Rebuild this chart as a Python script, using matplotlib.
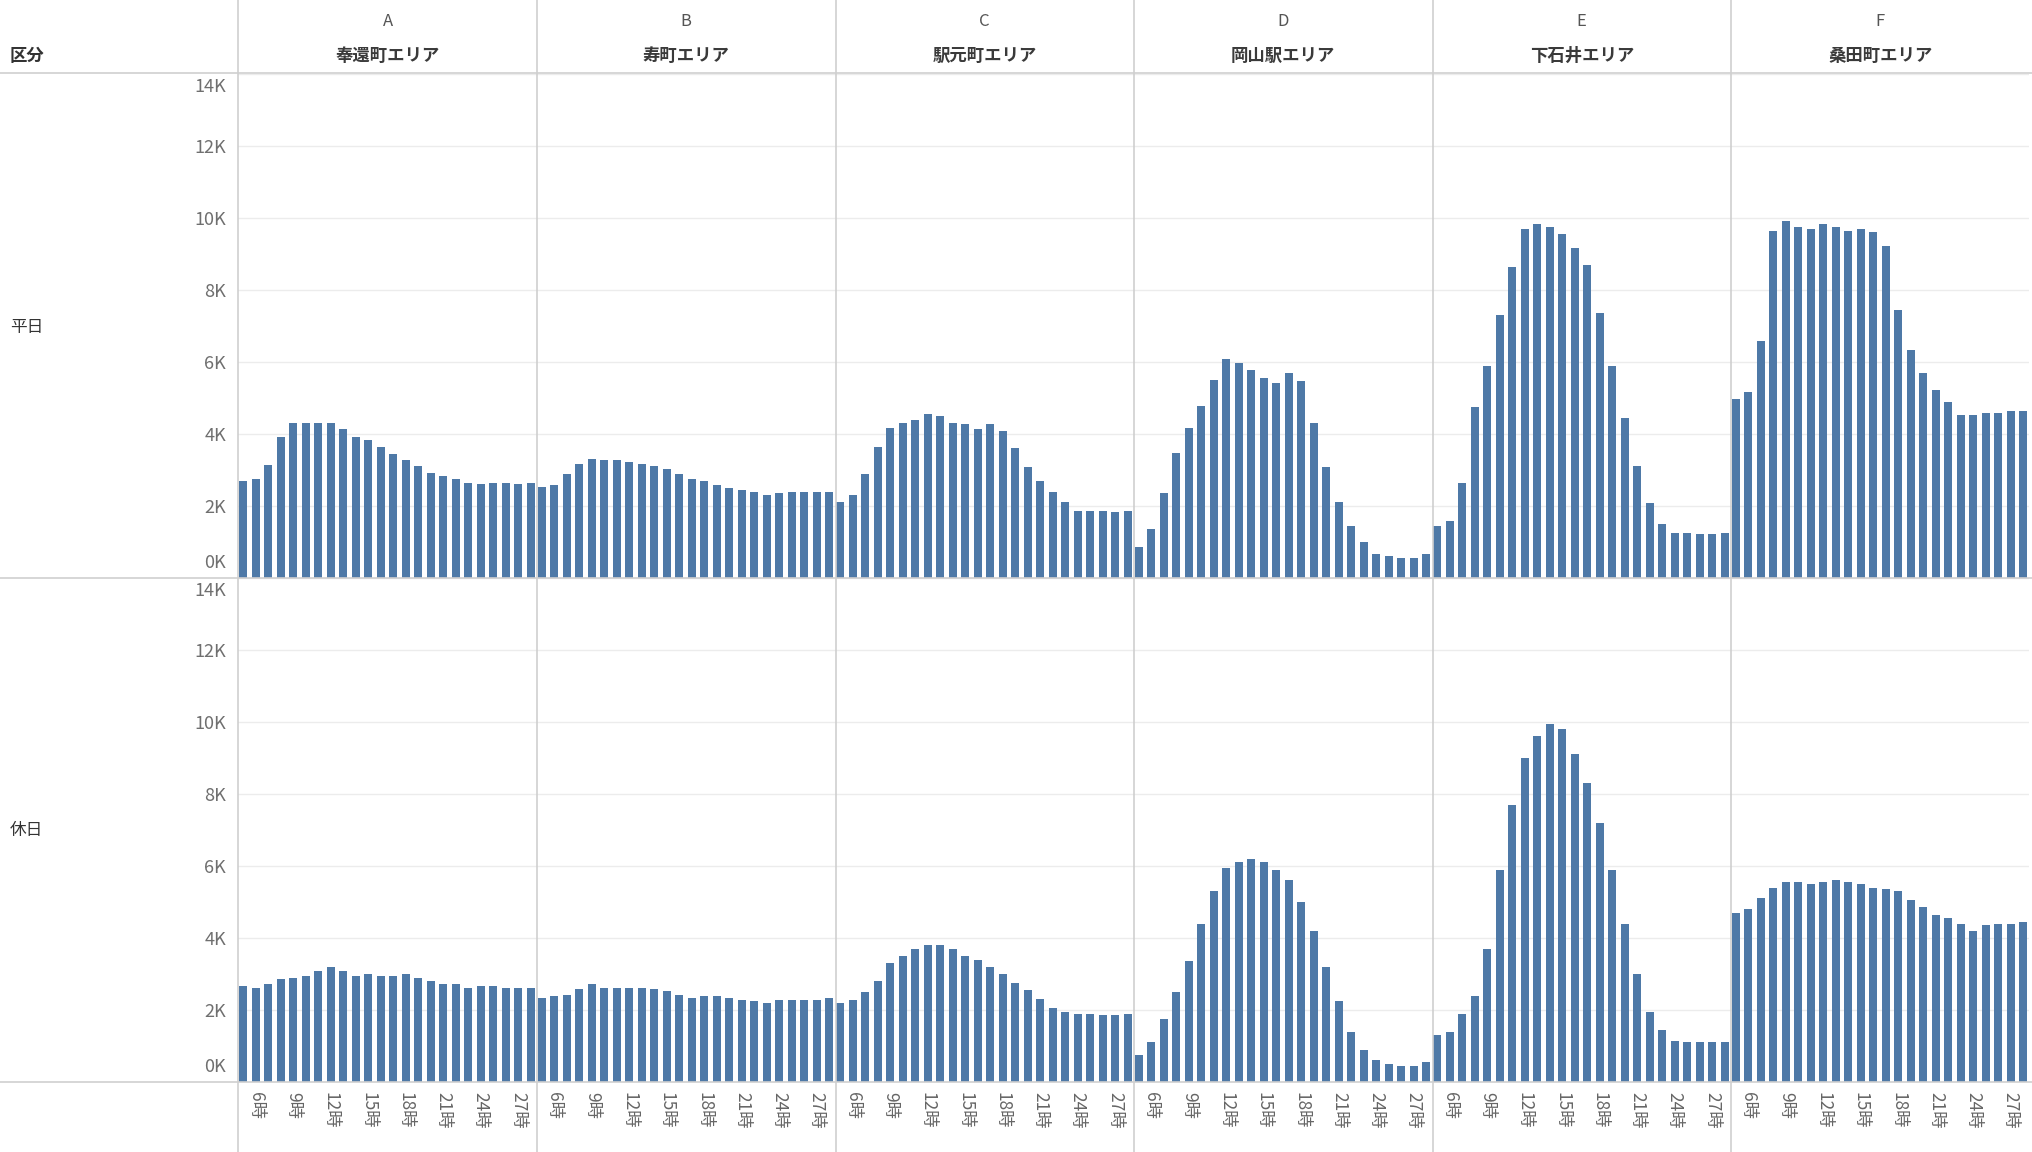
import numpy as np
import matplotlib
matplotlib.use('Agg')
from matplotlib import pyplot as plt
from matplotlib.lines import Line2D
from matplotlib.transforms import ScaledTranslation

plt.rcParams['font.family'] = ['Noto Sans CJK JP', 'DejaVu Sans']

# hours 5..28, labels every 3 hours
hours = list(range(5, 29))
tick_hours = [6, 9, 12, 15, 18, 21, 24, 27]

letters = ['A', 'B', 'C', 'D', 'E', 'F']
areas = ['奉還町エリア', '寿町エリア', '駅元町エリア', '岡山駅エリア', '下石井エリア', '桑田町エリア']
rows = ['平日', '休日']

# 平日 (thousands)
weekday_A = [2.70, 2.74, 3.13, 3.92, 4.31, 4.31, 4.31, 4.31, 4.13, 3.92, 3.84, 3.65,
             3.45, 3.27, 3.12, 2.93, 2.83, 2.74, 2.63, 2.60, 2.63, 2.63, 2.60, 2.63]
weekday_B = [2.54, 2.59, 2.88, 3.16, 3.31, 3.27, 3.27, 3.22, 3.16, 3.11, 3.02, 2.88,
             2.74, 2.69, 2.59, 2.50, 2.45, 2.40, 2.30, 2.35, 2.40, 2.40, 2.40, 2.40]
weekday_C = [2.11, 2.31, 2.88, 3.65, 4.16, 4.31, 4.40, 4.55, 4.51, 4.31, 4.27, 4.13,
             4.27, 4.07, 3.60, 3.07, 2.69, 2.40, 2.11, 1.87, 1.87, 1.87, 1.83, 1.87]
weekday_D = [0.85, 1.36, 2.36, 3.46, 4.17, 4.78, 5.50, 6.07, 5.98, 5.79, 5.55, 5.41,
             5.70, 5.46, 4.31, 3.07, 2.11, 1.45, 1.00, 0.66, 0.61, 0.56, 0.56, 0.66]
weekday_E = [1.45, 1.59, 2.63, 4.74, 5.88, 7.31, 8.65, 9.70, 9.83, 9.74, 9.56, 9.17,
             8.69, 7.36, 5.88, 4.45, 3.11, 2.07, 1.50, 1.26, 1.26, 1.21, 1.21, 1.26]
weekday_F = [4.98, 5.16, 6.59, 9.65, 9.93, 9.74, 9.70, 9.83, 9.74, 9.65, 9.70, 9.60,
             9.22, 7.45, 6.32, 5.70, 5.22, 4.88, 4.54, 4.54, 4.59, 4.59, 4.65, 4.65]

# 休日 (thousands)
holiday_A = [2.67, 2.62, 2.71, 2.85, 2.90, 2.95, 3.09, 3.19, 3.09, 2.95, 3.00, 2.95,
             2.95, 3.00, 2.90, 2.81, 2.71, 2.71, 2.62, 2.67, 2.67, 2.62, 2.62, 2.62]
holiday_B = [2.33, 2.38, 2.43, 2.57, 2.71, 2.62, 2.62, 2.62, 2.62, 2.57, 2.53, 2.43,
             2.33, 2.38, 2.38, 2.33, 2.29, 2.24, 2.19, 2.29, 2.29, 2.29, 2.29, 2.33]
holiday_C = [2.19, 2.29, 2.50, 2.80, 3.30, 3.50, 3.70, 3.80, 3.80, 3.70, 3.50, 3.40,
             3.20, 3.00, 2.75, 2.55, 2.30, 2.05, 1.95, 1.90, 1.90, 1.85, 1.85, 1.90]
holiday_D = [0.75, 1.10, 1.75, 2.50, 3.35, 4.40, 5.30, 5.95, 6.10, 6.20, 6.10, 5.90,
             5.60, 5.00, 4.20, 3.20, 2.25, 1.40, 0.90, 0.60, 0.50, 0.45, 0.45, 0.55]
holiday_E = [1.30, 1.40, 1.90, 2.40, 3.70, 5.90, 7.70, 9.00, 9.60, 9.95, 9.80, 9.10,
             8.30, 7.20, 5.90, 4.40, 3.00, 1.95, 1.45, 1.15, 1.10, 1.10, 1.10, 1.10]
holiday_F = [4.70, 4.80, 5.10, 5.40, 5.55, 5.55, 5.50, 5.55, 5.60, 5.55, 5.50, 5.40,
             5.35, 5.30, 5.05, 4.85, 4.65, 4.55, 4.40, 4.20, 4.35, 4.40, 4.40, 4.45]

weekday = [weekday_A, weekday_B, weekday_C, weekday_D, weekday_E, weekday_F]
holiday = [holiday_A, holiday_B, holiday_C, holiday_D, holiday_E, holiday_F]

bar_color = '#4E79A7'
sep_color = '#cfcfcf'
grid_color = '#ececec'

W, H = 2033, 1152
fig = plt.figure(figsize=(W / 100, H / 100), dpi=100)


def box(x0, y0, x1, y1):
    return [x0 / W, 1 - y1 / H, (x1 - x0) / W, (y1 - y0) / H]


def line(x0, y0, x1, y1, color=sep_color, lw=1.2):
    fig.add_artist(Line2D([x0 / W, x1 / W], [1 - y0 / H, 1 - y1 / H],
                          transform=fig.transFigure, color=color, lw=lw, zorder=5))


col_edges = [238.5 + 298.5 * i for i in range(7)]
row_edges = [(74, 578), (578, 1082)]
x_idx = np.arange(len(hours))

for r, data in enumerate([weekday, holiday]):
    top, bottom = row_edges[r]
    for c in range(6):
        ax = fig.add_axes(box(col_edges[c], top, col_edges[c + 1], bottom))
        ax.bar(x_idx, np.array(data[c]) * 1000, width=0.64, color=bar_color, zorder=3)
        ax.set_xlim(-0.4, 23.5)
        ax.set_ylim(0, 14000)
        ax.set_yticks(range(0, 14001, 2000))
        ax.grid(axis='y', color=grid_color, lw=1)
        ax.set_axisbelow(True)
        for s in ax.spines.values():
            s.set_visible(False)
        ax.set_facecolor('none')
        if c == 0:
            ax.set_yticklabels([f'{v // 1000}K' for v in range(0, 14001, 2000)])
            ax.tick_params(axis='y', length=0, pad=9, labelsize=13, labelcolor='#6f6f6f')
            yt = ax.yaxis.get_major_ticks()
            yt[0].label1.set_va('bottom')
            yt[0].label1.set_transform(yt[0].label1.get_transform() +
                                       ScaledTranslation(0, 4 / 72, fig.dpi_scale_trans))
            yt[-1].label1.set_va('top')
            yt[-1].label1.set_transform(yt[-1].label1.get_transform() +
                                        ScaledTranslation(0, -3 / 72, fig.dpi_scale_trans))
        else:
            ax.tick_params(axis='y', length=0, labelleft=False)
        if r == 1:
            ax.set_xticks([hours.index(h) for h in tick_hours])
            ax.set_xticklabels([f'{h}時' for h in tick_hours], rotation=-90,
                               va='top', ha='center')
            ax.tick_params(axis='x', length=0, pad=7, labelsize=12.5, labelcolor='#666666')
        else:
            ax.set_xticks([])

# separators
for x in col_edges[:-1]:
    line(x, 0, x, H)
line(0, 73, W, 73)
line(0, 578, W, 578)
line(0, 1082, W, 1082)

# headers
fig.text(10 / W, 1 - 56 / H, '区分', ha='left', va='center', fontsize=12.5,
         fontweight='bold', color='#333333')
for c in range(6):
    xc = (col_edges[c] + col_edges[c + 1]) / 2 / W
    fig.text(xc, 1 - 21 / H, letters[c], ha='center', va='center', fontsize=12,
             color='#555555')
    fig.text(xc, 1 - 56 / H, areas[c], ha='center', va='center', fontsize=12.5,
             fontweight='bold', color='#3a3a3a')

fig.text(10 / W, 1 - 327 / H, rows[0], ha='left', va='center', fontsize=12, color='#333333')
fig.text(10 / W, 1 - 830 / H, rows[1], ha='left', va='center', fontsize=12, color='#333333')

fig.savefig('out.png', dpi=100)
